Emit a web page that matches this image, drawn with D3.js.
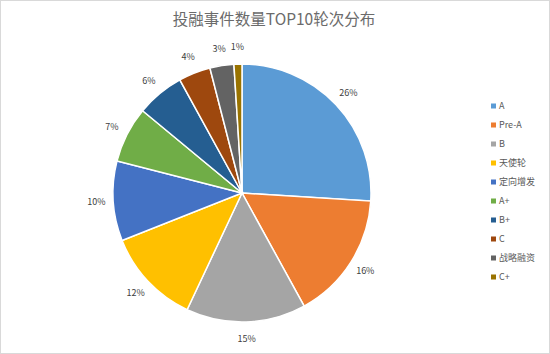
<!DOCTYPE html>
<html lang="zh">
<head>
<meta charset="UTF-8">
<title>投融事件数量TOP10轮次分布</title>
<script src="https://d3js.org/d3.v7.min.js"></script>
<style>
  body { margin: 0; background: #fff; }
  text { font-family: "Noto Sans CJK SC", "Open Sans", sans-serif; }
</style>
</head>
<body>
<script>
var rounds = ["A", "Pre-A", "B", "天使轮", "定向增发", "A+", "B+", "C", "战略融资", "C+"];
var shares = [26, 16, 15, 12, 10, 7, 6, 4, 3, 1];
var colors = ["#5B9BD5", "#ED7D31", "#A5A5A5", "#FFC000", "#4472C4", "#70AD47", "#255E91", "#9E480E", "#636363", "#997300"];

var width = 550, height = 354;
var cx = 242, cy = 193, radius = 129;

var svg = d3.select("body").append("svg")
  .attr("width", width)
  .attr("height", height);

svg.append("rect")
  .attr("x", 0.5).attr("y", 0.5)
  .attr("width", width - 1).attr("height", height - 1)
  .attr("fill", "#fff")
  .attr("stroke", "#d9d9d9");

svg.append("text")
  .attr("x", 274)
  .attr("y", 25)
  .attr("text-anchor", "middle")
  .attr("font-size", "15.5px")
  .attr("fill", "#6b6b6b")
  .text("投融事件数量TOP10轮次分布");

var data = rounds.map(function (d, i) { return { name: d, value: shares[i], color: colors[i] }; });

var pie = d3.pie().sort(null).value(function (d) { return d.value; });
var arc = d3.arc().innerRadius(0).outerRadius(radius);
var labelArc = d3.arc().innerRadius(radius + 17).outerRadius(radius + 17);

var g = svg.append("g").attr("transform", "translate(" + cx + "," + cy + ")");
var arcs = pie(data);

g.selectAll("path")
  .data(arcs)
  .enter().append("path")
  .attr("d", arc)
  .attr("fill", function (d) { return d.data.color; })
  .attr("stroke", "#fff")
  .attr("stroke-width", 1.5);

g.selectAll(".lbl")
  .data(arcs)
  .enter().append("text")
  .attr("class", "lbl")
  .attr("transform", function (d) { return "translate(" + labelArc.centroid(d) + ")"; })
  .attr("dy", "0.35em")
  .attr("text-anchor", "middle")
  .attr("font-size", "9px")
  .attr("fill", "#404040")
  .text(function (d) { return d.data.value + "%"; });

// legend
var legend = svg.append("g").attr("transform", "translate(491,106)");
var item = legend.selectAll("g")
  .data(data)
  .enter().append("g")
  .attr("transform", function (d, i) { return "translate(0," + (i * 19) + ")"; });

item.append("rect")
  .attr("x", 0).attr("y", -2.5)
  .attr("width", 5).attr("height", 5)
  .attr("fill", function (d) { return d.color; });

item.append("text")
  .attr("x", 8)
  .attr("dy", "0.35em")
  .attr("font-size", "9px")
  .attr("fill", "#595959")
  .text(function (d) { return d.name; });
</script>
</body>
</html>
